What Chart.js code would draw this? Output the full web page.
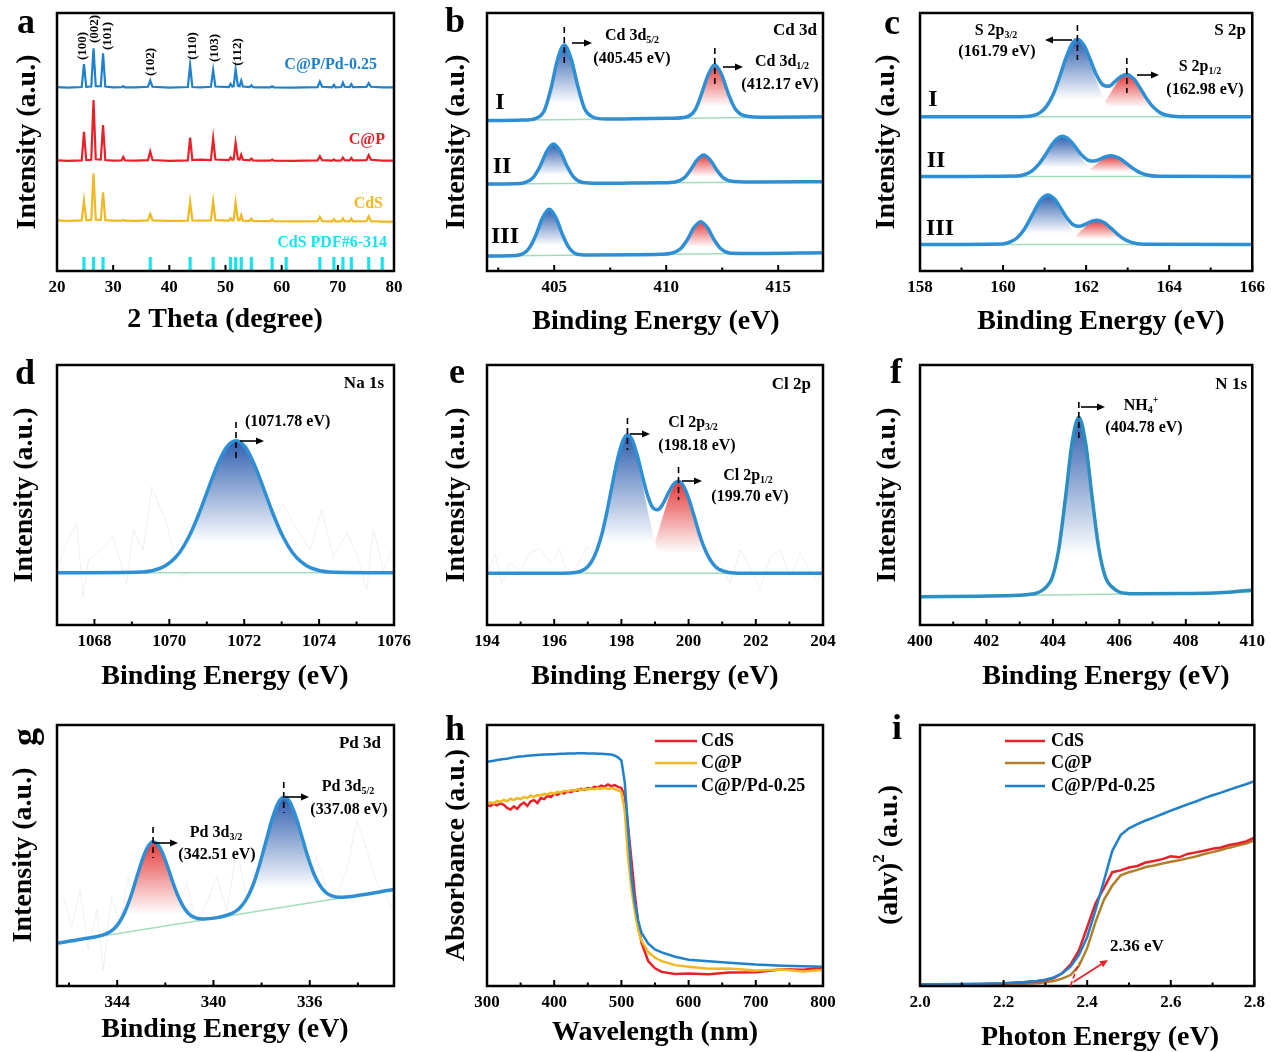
<!DOCTYPE html>
<html>
<head>
<meta charset="utf-8">
<title>CdS, C@P and C@P/Pd-0.25: XRD, XPS and UV-vis</title>
<script src="https://cdn.jsdelivr.net/npm/chart.js@4.4.1/dist/chart.umd.min.js"></script>
<style>
  html, body { margin: 0; padding: 0; background: #fff; }
  #fig { position: relative; width: 1271px; height: 1052px; overflow: hidden; background: #fff; }
  #fig canvas { position: absolute; left: 0; top: 0; }
</style>
</head>
<body>
<div id="fig"></div>
<script>
// ---------- (a) XRD ----------
const xrdTheta = [20, 22, 24.4, 24.8, 25.2, 26.1, 26.5, 26.9, 27.8, 28.2, 28.6, 30, 31.5, 31.8, 32.1, 34, 36.2, 36.6, 37.0, 40,
  43.3, 43.7, 44.1, 45.5, 47.4, 47.8, 48.2, 50.6, 50.9, 51.2, 51.45, 51.8, 52.2, 52.5, 52.8, 53.1, 54.3, 54.6, 54.9, 56,
  58.0, 58.3, 58.6, 62, 64, 66.4, 66.8, 67.2, 69.0, 69.3, 69.6, 70.6, 70.9, 71.2, 72.1, 72.4, 72.7, 75.1, 75.5, 75.9, 78, 80];
const xrdPd = [71.3, 71.1, 71.3, 80.2, 71.4, 71.5, 86.3, 71.6, 71.6, 84.4, 71.5, 71.2, 71.3, 71.6, 71.2, 71.2, 71.4, 73.8, 71.4, 71.1,
  71.3, 79.8, 71.3, 71.2, 71.4, 77.9, 71.5, 71.3, 72.5, 71.5, 71.6, 78.2, 71.8, 71.6, 73.8, 71.5, 71.3, 72.0, 71.3, 71.2,
  71.2, 71.6, 71.2, 71.1, 71.2, 71.3, 73.4, 71.4, 71.2, 72.1, 71.2, 71.3, 73.0, 71.4, 71.3, 72.4, 71.3, 71.4, 72.8, 71.4, 71.2, 71.2];
const xrdCP = [42.9, 42.7, 42.9, 53.9, 43.0, 43.1, 66.3, 43.3, 43.2, 56.6, 43.0, 42.8, 42.9, 44.2, 42.9, 42.8, 43.0, 46.3, 43.0, 42.7,
  42.9, 51.7, 43.0, 43.2, 43.0, 51.4, 43.2, 43.0, 44.0, 43.2, 43.3, 49.7, 43.4, 43.2, 45.1, 43.1, 42.9, 43.6, 42.9, 42.8,
  42.8, 43.2, 42.8, 42.7, 42.8, 42.9, 44.5, 43.0, 42.8, 43.3, 42.8, 42.9, 44.0, 43.0, 42.9, 43.8, 42.9, 43.0, 44.9, 43.1, 42.8, 42.8];
const xrdCdS = [19.6, 19.4, 19.6, 27.2, 19.7, 19.8, 37.8, 19.9, 19.8, 30.5, 19.7, 19.5, 19.5, 19.8, 19.5, 19.4, 19.6, 22.1, 19.6, 19.4,
  19.5, 26.9, 19.6, 19.5, 19.6, 26.9, 19.7, 19.5, 20.4, 19.6, 19.7, 26.5, 19.8, 19.6, 21.7, 19.5, 19.4, 20.3, 19.4, 19.3,
  19.3, 20.0, 19.3, 19.2, 19.2, 19.3, 21.0, 19.3, 19.2, 20.1, 19.2, 19.2, 20.4, 19.3, 19.2, 20.3, 19.2, 19.3, 21.2, 19.3, 19.1, 19.1];
const pdfSticks = [24.8, 26.5, 28.2, 36.6, 43.7, 47.8, 50.9, 51.8, 52.8, 54.6, 58.3, 60.8, 66.8, 69.3, 70.9, 72.4, 75.5, 77.9];
const pdfStickHeight = 5.3;
const hklLabels = ['(100)', '(002)', '(101)', '(102)', '(110)', '(103)', '(112)'];
const xrdMajor = [20, 30, 40, 50, 60, 70, 80];

// ---------- (b) Cd 3d, samples I-III ----------
const cdX1 = [402, 403.6, 404.15, 404.55, 404.85, 405.15, 405.45, 405.75, 406.05, 406.35, 406.75, 407.3, 408.5,
  410.2, 410.9, 411.3, 411.57, 411.87, 412.17, 412.47, 412.77, 413.07, 413.5, 414.5, 417];
const cdY1 = [58.3, 58.5, 59.1, 62.0, 70.5, 82.0, 87.6, 82.4, 71.8, 63.0, 59.6, 58.9, 59.0,
  59.2, 59.7, 62.6, 68.5, 76.0, 79.8, 76.2, 68.8, 63.0, 60.2, 59.6, 59.8];
const cdX2 = [402, 403.2, 403.67, 404.07, 404.37, 404.67, 404.97, 405.27, 405.57, 405.87, 406.27, 406.9, 408.5,
  409.8, 410.4, 410.8, 411.07, 411.37, 411.67, 411.97, 412.27, 412.57, 413.0, 414.2, 417];
const cdY2 = [33.7, 33.8, 34.2, 36.3, 40.6, 46.4, 49.2, 46.4, 40.7, 36.4, 34.3, 34.0, 34.1,
  34.2, 34.5, 36.1, 39.0, 43.0, 45.0, 43.0, 39.0, 36.0, 34.7, 34.5, 34.6];
const cdX3 = [402, 403.0, 403.48, 403.88, 404.18, 404.48, 404.78, 405.08, 405.38, 405.68, 406.08, 406.7, 408.5,
  409.7, 410.24, 410.64, 410.94, 411.24, 411.54, 411.84, 412.14, 412.44, 412.87, 414.0, 417];
const cdY3 = [5.8, 5.9, 6.3, 8.8, 13.9, 20.6, 23.9, 20.6, 13.9, 8.8, 6.4, 6.2, 6.3,
  6.5, 6.9, 8.6, 12.1, 16.8, 19.1, 16.8, 12.1, 8.6, 6.9, 6.8, 7.1];
const cdBaseX = [402, 417];
const cdBase1 = [58.3, 59.8];
const cdBase2 = [33.7, 34.6];
const cdBase3 = [5.8, 7.1];
const cdPeaks = [405.45, 412.17];
const cdMajor = [405, 410, 415];
const cdMinor = [402.5, 407.5, 412.5];

// ---------- (c) S 2p ----------
const sX1 = [158, 160.3, 160.7, 160.9, 161.05, 161.2, 161.35, 161.5, 161.65, 161.79, 161.95, 162.1, 162.25,
  162.4, 162.55, 162.7, 162.85, 162.98, 163.15, 163.3, 163.45, 163.6, 163.8, 164.1, 164.5, 166];
const sEnv1 = [59.8, 59.8, 60.2, 61.5, 63.9, 68.2, 74.6, 81.9, 87.7, 89.8, 87.4, 81.9, 76.0,
  72.2, 71.6, 73.5, 75.5, 76.2, 74.4, 70.9, 67.0, 63.8, 61.2, 60.0, 59.8, 59.8];
const sP3a = [59.8, 59.8, 60.2, 61.5, 63.9, 68.2, 74.6, 81.9, 87.7, 89.8, 87.1, 80.9, 73.7,
  67.5, 63.4, 61.3, 60.3, 60.0, 59.8, 59.8, 59.8, 59.8, 59.8, 59.8, 59.8, 59.8];
const sP1a = [59.8, 59.8, 59.8, 59.8, 59.8, 59.8, 59.8, 59.8, 59.8, 59.8, 60.1, 60.8, 62.1,
  64.5, 68.0, 72.0, 75.0, 76.0, 74.4, 70.9, 67.0, 63.8, 61.2, 60.0, 59.8, 59.8];
const sX2 = [158, 160.34, 160.54, 160.69, 160.84, 160.99, 161.14, 161.29, 161.43, 161.59, 161.74, 161.89,
  162.04, 162.19, 162.34, 162.49, 162.62, 162.79, 162.94, 163.09, 163.24, 163.44, 163.74, 166];
const sEnv2 = [36.6, 36.8, 37.5, 38.7, 41.0, 44.3, 48.1, 51.1, 52.2, 50.9, 48.1, 45.0,
  43.0, 42.6, 43.4, 44.4, 44.7, 43.8, 42.1, 40.2, 38.6, 37.3, 36.7, 36.6];
const sP3b = [36.6, 36.8, 37.5, 38.7, 41.0, 44.3, 48.1, 51.1, 52.2, 50.8, 47.6, 43.8,
  40.6, 38.5, 37.4, 36.9, 36.7, 36.6, 36.6, 36.6, 36.6, 36.6, 36.6, 36.6];
const sP1b = [36.6, 36.6, 36.6, 36.6, 36.6, 36.6, 36.6, 36.6, 36.6, 36.8, 37.1, 37.7,
  38.9, 40.7, 42.6, 44.1, 44.6, 43.8, 42.1, 40.2, 38.6, 37.3, 36.7, 36.6];
const sX3 = [158, 159.99, 160.19, 160.34, 160.49, 160.64, 160.79, 160.94, 161.08, 161.24, 161.39, 161.54,
  161.69, 161.84, 161.99, 162.14, 162.27, 162.44, 162.59, 162.74, 162.89, 163.09, 163.39, 166];
const sEnv3 = [10.3, 10.5, 11.4, 12.9, 15.7, 19.8, 24.4, 28.2, 29.5, 27.9, 24.3, 20.5,
  17.9, 17.3, 18.2, 19.3, 19.7, 18.7, 16.7, 14.5, 12.6, 11.1, 10.4, 10.3];
const sP3c = [10.3, 10.5, 11.4, 12.9, 15.7, 19.8, 24.4, 28.2, 29.5, 27.8, 23.8, 19.2,
  15.2, 12.6, 11.2, 10.6, 10.4, 10.3, 10.3, 10.3, 10.3, 10.3, 10.3, 10.3];
const sP1c = [10.3, 10.3, 10.3, 10.3, 10.3, 10.3, 10.3, 10.3, 10.3, 10.5, 10.8, 11.6,
  13.0, 15.0, 17.3, 19.0, 19.6, 18.7, 16.7, 14.5, 12.6, 11.1, 10.4, 10.3];
const sBaseX = [158, 166];
const sBase = [59.8, 36.6, 10.3];
const sPeaks = [161.79, 162.98];
const sMajor = [158, 160, 162, 164, 166];
const sMinor = [159, 161, 163, 165];

// ---------- (d) Na 1s ----------
const naX = [1067, 1069.28, 1069.78, 1070.03, 1070.28, 1070.53, 1070.78, 1071.03, 1071.28, 1071.53, 1071.78,
  1072.03, 1072.28, 1072.53, 1072.78, 1073.03, 1073.28, 1073.53, 1073.78, 1074.28, 1076];
const naY = [20.1, 20.4, 22.0, 24.2, 28.0, 34.1, 42.4, 52.0, 61.4, 68.4, 70.9,
  68.4, 61.4, 52.0, 42.4, 34.1, 28.0, 24.2, 22.0, 20.4, 20.1];
const naBase = 20.1;
const naRawX = [1067.08, 1067.21, 1067.53, 1067.7, 1067.84, 1068.15, 1068.5, 1068.86, 1069.04, 1069.3, 1069.53, 1069.75,
  1069.93, 1070.1, 1070.33, 1071.5, 1072.5, 1073.04, 1073.31, 1073.76, 1074.07, 1074.38, 1074.74, 1075.0, 1075.27,
  1075.45, 1075.72, 1075.94];
const naRawY = [23.7, 30.1, 39.1, 10.9, 25.0, 28.8, 34.0, 16.0, 36.5, 28.8, 53.2, 45.5,
  39.1, 28.8, 18.6, 30.0, 32.0, 46.8, 39.1, 28.8, 44.2, 26.3, 35.3, 27.6, 13.5,
  36.5, 21.1, 28.8];
const naPeak = 1071.78;
const naMajor = [1068, 1070, 1072, 1074, 1076];
const naMinor = [1067, 1069, 1071, 1073, 1075];

// ---------- (e) Cl 2p ----------
const clX = [194, 196.3, 196.63, 196.83, 196.98, 197.13, 197.28, 197.43, 197.58, 197.73, 197.88, 198.03, 198.18,
  198.33, 198.48, 198.63, 198.78, 198.93, 199.08, 199.25, 199.40, 199.55, 199.70, 199.85, 200.0, 200.15, 200.30,
  200.45, 200.60, 200.75, 200.90, 201.2, 201.6, 204];
const clEnv = [19.9, 19.9, 20.2, 20.9, 22.2, 24.8, 29.1, 35.5, 44.2, 54.1, 63.5, 70.4, 73.2,
  71.0, 64.9, 57.0, 49.8, 45.2, 44.3, 46.9, 50.8, 54.1, 55.3, 53.4, 48.7, 42.5, 35.9,
  30.2, 26.0, 23.1, 21.4, 20.2, 19.9, 19.9];
const clP3 = [19.9, 19.9, 20.2, 20.9, 22.2, 24.8, 29.1, 35.5, 44.2, 54.1, 63.5, 70.4, 72.9,
  70.4, 63.5, 54.1, 44.2, 35.5, 29.1, 24.3, 22.0, 20.8, 20.3, 20.0, 19.9, 19.9, 19.9,
  19.9, 19.9, 19.9, 19.9, 19.9, 19.9, 19.9];
const clP1 = [19.9, 19.9, 19.9, 19.9, 19.9, 19.9, 19.9, 19.9, 19.9, 19.9, 19.9, 19.9, 20.2,
  20.5, 21.3, 22.8, 25.5, 29.6, 35.1, 42.5, 48.7, 53.2, 54.9, 53.2, 48.7, 42.5, 35.9,
  30.2, 26.0, 23.1, 21.4, 20.2, 19.9, 19.9];
const clBase = 19.9;
const clRawX = [194.04, 194.24, 194.44, 194.68, 194.98, 195.28, 195.58, 195.88, 196.17, 196.42, 196.67, 196.97,
  197.36, 198.5, 199.5, 200.74, 200.98, 201.23, 201.53, 201.83, 202.13, 202.42, 202.72, 203.02, 203.32, 203.61,
  203.86, 203.96];
const clRawY = [21.2, 27.6, 16.0, 23.7, 21.2, 27.6, 29.5, 23.7, 28.8, 18.6, 22.4, 30.1,
  26.3, 30.0, 28.0, 26.3, 23.7, 16.0, 28.8, 22.4, 13.5, 26.3, 28.8, 18.6, 27.6, 21.2,
  16.0, 23.7];
const clPeaks = [198.18, 199.70];
const clMajor = [194, 196, 198, 200, 202, 204];
const clMinor = [195, 197, 199, 201, 203];

// ---------- (f) N 1s ----------
const nX = [400, 403.0, 403.38, 403.58, 403.78, 403.98, 404.18, 404.38, 404.58, 404.78, 404.98, 405.18, 405.38,
  405.58, 405.78, 405.98, 406.18, 406.5, 408, 409, 410];
const nY = [10.9, 11.4, 11.9, 12.6, 14.4, 18.2, 29.4, 49.1, 70.4, 79.9, 70.4, 49.2, 29.5,
  18.4, 14.6, 12.8, 12.2, 12.0, 12.1, 12.4, 13.5];
const nBaseX = [400, 410];
const nBaseY = [10.9, 12.6];
const nPeak = 404.78;
const nMajor = [400, 402, 404, 406, 408, 410];
const nMinor = [401, 403, 405, 407, 409];

// ---------- (g) Pd 3d ----------
const pdX = [332.5, 334.5, 334.78, 335.08, 335.33, 335.58, 335.83, 336.08, 336.33, 336.58, 336.83, 337.08, 337.33,
  337.58, 337.83, 338.08, 338.33, 338.58, 338.83, 339.08, 339.38, 339.9, 340.41, 340.71, 340.91, 341.11, 341.31,
  341.51, 341.71, 341.91, 342.11, 342.31, 342.51, 342.71, 342.91, 343.11, 343.31, 343.51, 343.71, 343.91, 344.11,
  344.31, 344.61, 345.5, 346.5];
const pdY = [37.0, 34.1, 34.0, 34.5, 35.8, 38.6, 43.0, 49.5, 57.3, 64.9, 70.5, 72.3, 69.8,
  63.4, 55.0, 46.6, 39.3, 34.1, 30.7, 28.6, 27.3, 26.1, 25.7, 26.0, 26.8, 28.5, 31.4,
  35.3, 40.3, 45.8, 50.8, 54.2, 55.3, 53.6, 49.6, 44.0, 37.9, 32.3, 27.8, 24.4, 22.1,
  20.7, 19.5, 17.9, 16.4];
const pdBaseX = [346.5, 332.5];
const pdBaseY = [16.4, 37.0];
const pdRawX = [346.24, 345.89, 345.54, 345.2, 344.85, 344.58, 344.23, 343.88, 343.54, 343.19, 342.77, 342.36,
  341.94, 341.53, 341.11, 340.7, 340.28, 339.87, 339.45, 339.03, 338.62, 338.2, 337.79, 337.37, 336.96, 336.54,
  336.13, 335.71, 335.3, 334.88, 334.46, 334.05, 333.63, 333.22, 332.8, 332.53];
const pdRawY = [34.2, 22.7, 36.8, 13.8, 29.1, 6.1, 34.2, 24.0, 41.9, 29.1, 48.3, 35.5,
  44.4, 27.8, 39.3, 24.0, 31.7, 41.9, 29.1, 52.1, 34.2, 44.4, 39.3, 48.3, 34.2, 54.6,
  39.3, 49.6, 36.8, 34.2, 44.4, 63.6, 52.1, 39.3, 34.2, 29.1];
const pdPeaks = [342.51, 337.08];
const pdMajor = [344, 340, 336];
const pdMinor = [346, 342, 338, 334];

// ---------- (h) UV-vis absorbance ----------
const wavelength = [300, 305, 310, 315, 320, 325, 330, 335, 340, 345, 350, 355, 360, 365, 370, 375, 380, 385, 390, 395,
  400, 405, 410, 415, 420, 425, 430, 435, 440, 445, 450, 455, 460, 465, 470, 475, 480, 485, 490, 495, 500,
  505, 510, 515, 520, 525, 530, 540, 550, 560, 580, 600, 630, 660, 700, 740, 770, 800];
const absPd = [85.9, 86.1, 86.3, 86.6, 86.8, 87.0, 87.1, 87.4, 87.6, 87.8, 87.9, 88.0, 88.2, 88.3, 88.4, 88.5, 88.6, 88.7, 88.7, 88.8,
  88.8, 88.9, 89.0, 89.0, 89.1, 89.1, 89.1, 89.2, 89.2, 89.2, 89.1, 89.1, 89.1, 89.0, 89.0, 88.9, 88.8, 88.7, 88.3, 87.6, 86.4,
  78.0, 60.0, 42.0, 32.0, 25.0, 20.3, 16.2, 14.0, 12.9, 11.2, 10.1, 9.5, 8.9, 8.2, 7.8, 7.6, 7.4];
const absCdS = [69.3, 69.0, 69.8, 69.2, 70.0, 69.4, 68.2, 67.6, 68.8, 67.9, 69.5, 70.3, 69.0, 70.8, 71.2, 70.1, 72.0, 71.6, 72.8, 72.4,
  73.6, 73.2, 74.1, 73.8, 74.6, 74.3, 75.0, 74.8, 75.5, 75.2, 75.8, 75.6, 76.3, 76.0, 76.8, 76.4, 77.2, 76.6, 77.0, 76.3, 75.9,
  72.8, 61.0, 48.0, 35.0, 24.0, 16.5, 9.5, 6.8, 5.4, 4.6, 4.8, 4.5, 5.2, 5.3, 6.4, 6.2, 7.0];
const absCP = [69.8, 70.4, 70.0, 70.9, 70.5, 71.3, 70.8, 71.8, 71.2, 72.0, 71.6, 72.4, 72.0, 72.9, 72.5, 73.2, 73.0, 73.6, 73.4, 74.0,
  73.7, 74.4, 74.1, 74.8, 74.5, 75.1, 74.8, 75.4, 75.0, 75.6, 75.3, 75.7, 75.4, 75.8, 75.5, 75.9, 75.5, 75.8, 75.4, 75.0, 74.3,
  67.0, 49.0, 37.0, 28.5, 21.5, 17.3, 13.0, 10.8, 9.5, 8.0, 7.4, 6.6, 6.7, 5.9, 6.3, 5.6, 6.1];
const wlMajor = [300, 400, 500, 600, 700, 800];
const wlMinor = [350, 450, 550, 650, 750];

// ---------- (i) Tauc plot ----------
const photonEnergy = [2.00, 2.05, 2.10, 2.15, 2.20, 2.25, 2.28, 2.30, 2.32, 2.34, 2.36, 2.38, 2.40, 2.42, 2.44, 2.46,
  2.48, 2.50, 2.52, 2.54, 2.56, 2.58, 2.60, 2.62, 2.64, 2.66, 2.68, 2.70, 2.72, 2.74, 2.76, 2.78, 2.80];
const taucPd = [0.6, 0.7, 0.8, 0.9, 1.1, 1.5, 1.9, 2.4, 3.3, 4.8, 7.4, 11.8, 18.8, 29.1, 40.3, 51.8,
  57.8, 60.4, 62.0, 63.4, 64.6, 65.9, 67.2, 68.4, 69.6, 70.7, 72.0, 73.1, 74.1, 75.2, 76.3, 77.3, 78.5];
const taucCdS = [0.6, 0.6, 0.7, 0.8, 1.0, 1.4, 1.8, 2.2, 3.0, 4.9, 8.2, 13.5, 22.5, 31.7, 37.5, 43.6,
  44.3, 45.4, 46.0, 47.3, 47.9, 48.6, 49.7, 49.3, 50.6, 51.2, 51.8, 52.6, 53.1, 54.0, 54.6, 55.4, 56.8];
const taucCP = [0.4, 0.4, 0.5, 0.6, 0.7, 0.9, 1.1, 1.4, 1.9, 2.8, 4.2, 7.6, 14.5, 24.6, 33.0, 38.5,
  42.4, 43.6, 44.5, 45.6, 46.2, 46.9, 47.6, 48.2, 48.9, 49.6, 50.6, 51.3, 52.1, 53.0, 53.8, 54.6, 55.7];
const bandGap = 2.36;
const evMajor = [2.0, 2.2, 2.4, 2.6, 2.8];
const evMinor = [2.1, 2.3, 2.5, 2.7];

// ---------- shared drawing setup ----------
const fig = document.getElementById('fig');
const W = 1271, H = 1052, AXIS_H = 30;
const SERIF = '"Liberation Serif", "Times New Roman", serif';
const XPS_LINE = '#2f8fd5';
const FILL_BLUE = '#2f5fae';
const FILL_RED = '#e43a3a';
const BASE_GREEN = '#a3dcbb';
const RED = '#e8202a', GOLD = '#f0b923', BLUE = '#1f80cc', BROWN = '#b07f2a', CYAN = '#18e3ef';

Chart.defaults.font.family = SERIF;

const pts = (xs, ys) => xs.map((x, i) => ({ x, y: ys[i] }));
const within = (xs, ys, lo, hi) => pts(xs, ys).filter(p => p.x >= lo && p.x <= hi);
const flat = (xs, v) => xs.map(x => ({ x, y: v }));

// vertical colour-to-white gradient under a fitted component
function fade(color) {
  return (c) => {
    const chart = c.chart;
    if (!chart.chartArea || !c.dataset) return 'rgba(255,255,255,0)';
    const ys = c.dataset.data.map(p => p.y);
    const y = chart.scales.y;
    const top = y.getPixelForValue(Math.max(...ys));
    const bot = y.getPixelForValue(Math.min(...ys));
    const g = chart.ctx.createLinearGradient(0, top, 0, Math.max(bot, top + 1));
    g.addColorStop(0, color);
    g.addColorStop(0.78, '#ffffff');
    g.addColorStop(1, '#ffffff');
    return g;
  };
}

const envelope = (data, color) => ({ data, borderColor: color || XPS_LINE, borderWidth: 3.5, fill: false,
  cubicInterpolationMode: 'monotone', pointRadius: 0 });
const baseline = (data) => ({ data, borderColor: BASE_GREEN, borderWidth: 1.5, fill: false, pointRadius: 0 });
const component = (data, color, target) => ({ data, borderWidth: 0, borderColor: 'rgba(0,0,0,0)',
  backgroundColor: fade(color), fill: target, cubicInterpolationMode: 'monotone', pointRadius: 0 });
const rawTrace = (data) => ({ data, borderColor: 'rgba(200,200,200,0.28)', borderWidth: 1, fill: false, pointRadius: 0 });
const plain = (label, data, color, width) => ({ label, data, borderColor: color, borderWidth: width || 2,
  fill: false, pointRadius: 0, tension: 0 });

function parseRich(s) {
  const out = [];
  s.split(/([_^]\{[^}]*\})/).forEach(seg => {
    if (!seg) return;
    if (seg[0] === '_') out.push({ s: seg.slice(2, -1), k: 'sub' });
    else if (seg[0] === '^') out.push({ s: seg.slice(2, -1), k: 'sup' });
    else out.push({ s: seg, k: '' });
  });
  return out;
}

function drawText(ctx, t) {
  const size = t.size || 16;
  const parts = parseRich(t.s);
  const fontOf = (p) => `bold ${p.k ? Math.round(size * 0.62) : size}px ${SERIF}`;
  ctx.save();
  ctx.translate(t.x, t.y);
  if (t.rot) ctx.rotate(t.rot);
  let total = 0;
  parts.forEach(p => { ctx.font = fontOf(p); total += ctx.measureText(p.s).width; });
  let cx = t.align === 'left' ? 0 : t.align === 'right' ? -total : -total / 2;
  ctx.fillStyle = t.color || '#000';
  ctx.textBaseline = 'middle';
  ctx.textAlign = 'left';
  parts.forEach(p => {
    ctx.font = fontOf(p);
    const dy = p.k === 'sub' ? size * 0.3 : p.k === 'sup' ? -size * 0.36 : 0;
    ctx.fillText(p.s, cx, dy);
    cx += ctx.measureText(p.s).width;
  });
  ctx.restore();
}

function arrow(ctx, x1, y1, x2, y2, color) {
  const a = Math.atan2(y2 - y1, x2 - x1), head = 8, half = 3.5;
  const bx = x2 - head * Math.cos(a), by = y2 - head * Math.sin(a);
  ctx.save();
  ctx.strokeStyle = color; ctx.fillStyle = color; ctx.lineWidth = 1.6;
  ctx.beginPath(); ctx.moveTo(x1, y1); ctx.lineTo(bx, by); ctx.stroke();
  ctx.beginPath(); ctx.moveTo(x2, y2);
  ctx.lineTo(bx + half * Math.sin(a), by - half * Math.cos(a));
  ctx.lineTo(bx - half * Math.sin(a), by + half * Math.cos(a));
  ctx.closePath(); ctx.fill();
  ctx.restore();
}

// dashed marker at a peak position plus a horizontal pointer
function drawMark(ctx, xs, m) {
  const px = xs.getPixelForValue(m.at);
  ctx.save();
  ctx.strokeStyle = '#000'; ctx.lineWidth = 1.6; ctx.setLineDash([6, 4]);
  ctx.beginPath(); ctx.moveTo(px, m.y1); ctx.lineTo(px, m.y2); ctx.stroke();
  ctx.restore();
  if (m.arrow) arrow(ctx, m.arrow[0], m.arrow[2], m.arrow[1], m.arrow[2], '#000');
}

function drawLegend(ctx, chart, lg) {
  lg.items.forEach((name, i) => {
    const ds = chart.data.datasets.find(d => d.label === name);
    const y = lg.ys[i];
    ctx.save();
    ctx.strokeStyle = ds.borderColor; ctx.lineWidth = 2.5;
    ctx.beginPath(); ctx.moveTo(lg.x1, y); ctx.lineTo(lg.x2, y); ctx.stroke();
    ctx.restore();
    drawText(ctx, { s: name, x: lg.tx, y, size: 18, align: 'left' });
  });
}

function decoPlugin(cfg) {
  return {
    id: 'deco',
    afterDatasetsDraw(chart) {
      const { ctx, chartArea: a, scales } = chart;
      const xs = scales.x;
      ctx.save();
      // inward ticks on the bottom edge
      ctx.strokeStyle = '#000'; ctx.lineWidth = 2;
      xs.ticks.forEach(t => {
        const px = xs.getPixelForValue(t.value);
        const len = cfg.major.includes(t.value) ? 6 : 3.5;
        ctx.beginPath(); ctx.moveTo(px, a.bottom); ctx.lineTo(px, a.bottom - len); ctx.stroke();
      });
      ctx.lineWidth = 2.5;
      ctx.strokeRect(a.left, a.top, a.right - a.left, a.bottom - a.top);
      ctx.restore();
      (cfg.marks || []).forEach(m => drawMark(ctx, xs, m));
      if (cfg.extra) cfg.extra(chart);
      if (cfg.legend) drawLegend(ctx, chart, cfg.legend);
      (cfg.texts || []).forEach(t => drawText(ctx, t));
    }
  };
}

function makePanel(cfg) {
  const canvas = document.createElement('canvas');
  canvas.width = W; canvas.height = H;
  fig.appendChild(canvas);
  const [l, t, r, b] = cfg.plot;
  const tickVals = cfg.major.concat(cfg.minor || []).sort((p, q) => p - q);
  return new Chart(canvas, {
    type: 'line',
    data: { datasets: cfg.datasets },
    options: {
      responsive: false,
      animation: false,
      events: [],
      layout: { padding: { left: l, top: t, right: W - r, bottom: H - b - AXIS_H } },
      plugins: { legend: { display: false }, tooltip: { enabled: false } },
      scales: {
        x: {
          type: 'linear', min: cfg.xMin, max: cfg.xMax, reverse: !!cfg.reverse, offset: false,
          grid: { display: false, drawTicks: false, tickLength: 0 },
          border: { display: false },
          afterBuildTicks: (s) => { s.ticks = tickVals.map(v => ({ value: v })); },
          afterFit: (s) => { s.height = AXIS_H; },
          ticks: {
            autoSkip: false, maxRotation: 0, minRotation: 0, padding: 6, color: '#000',
            font: { family: SERIF, size: 17, weight: 'bold' },
            callback: (v) => cfg.major.includes(v) ? v.toFixed(cfg.digits || 0) : ''
          }
        },
        y: { type: 'linear', display: false, min: 0, max: 100 }
      }
    },
    plugins: [decoPlugin(cfg)]
  });
}

const yTitle = (s, x, y) => ({ s, x, y, size: 28, rot: -Math.PI / 2 });
const xTitle = (s, x, y) => ({ s, x, y, size: 28 });
const letter = (s, x, y, rot) => ({ s, x, y, size: 36, rot });
const BE = 'Binding Energy (eV)';
const INT = 'Intensity (a.u.)';

// (a) XRD patterns
makePanel({
  plot: [57, 13, 394, 271], xMin: 20, xMax: 80, major: xrdMajor,
  datasets: [
    plain('C@P/Pd-0.25', pts(xrdTheta, xrdPd), BLUE, 2.2),
    plain('C@P', pts(xrdTheta, xrdCP), RED, 2.2),
    plain('CdS', pts(xrdTheta, xrdCdS), GOLD, 2.2),
    { type: 'bar', label: 'CdS PDF#6-314', data: pdfSticks.map(x => ({ x, y: pdfStickHeight })),
      backgroundColor: CYAN, barThickness: 2.5 }
  ],
  texts: [
    letter('a', 26, 24), yTitle(INT, 28, 142), xTitle('2 Theta (degree)', 225, 320),
    { s: 'C@P/Pd-0.25', x: 377, y: 65, size: 16, align: 'right', color: BLUE },
    { s: 'C@P', x: 385, y: 140, size: 16, align: 'right', color: RED },
    { s: 'CdS', x: 383, y: 204, size: 16, align: 'right', color: GOLD },
    { s: 'CdS PDF#6-314', x: 387, y: 243, size: 16, align: 'right', color: CYAN },
    ...[[82.7, 46], [95, 29], [108, 36], [150.7, 62], [192.7, 46], [215, 48], [237.7, 52]]
      .map(([x, y], i) => ({ s: hklLabels[i], x, y, size: 13, rot: -Math.PI / 2 }))
  ]
});

// (b) Cd 3d
makePanel({
  plot: [487, 13, 823, 271], xMin: 402, xMax: 417, major: cdMajor, minor: cdMinor,
  datasets: [
    envelope(pts(cdX1, cdY1)), envelope(pts(cdX2, cdY2)), envelope(pts(cdX3, cdY3)),
    baseline(pts(cdBaseX, cdBase1)), baseline(pts(cdBaseX, cdBase2)), baseline(pts(cdBaseX, cdBase3)),
    component(within(cdX1, cdY1, 403, 407.5), FILL_BLUE, 3), component(within(cdX1, cdY1, 409.5, 414.6), FILL_RED, 3),
    component(within(cdX2, cdY2, 403, 407.5), FILL_BLUE, 4), component(within(cdX2, cdY2, 409.5, 414.6), FILL_RED, 4),
    component(within(cdX3, cdY3, 403, 407.5), FILL_BLUE, 5), component(within(cdX3, cdY3, 409.5, 414.6), FILL_RED, 5)
  ],
  marks: [
    { at: cdPeaks[0], y1: 27, y2: 63, arrow: [572, 592, 43] },
    { at: cdPeaks[1], y1: 48, y2: 85, arrow: [723, 743, 67] }
  ],
  texts: [
    letter('b', 455, 23), yTitle(INT, 457, 142), xTitle(BE, 656, 322),
    { s: 'Cd 3d', x: 817, y: 31, size: 17, align: 'right' },
    { s: 'I', x: 500, y: 103, size: 24 }, { s: 'II', x: 502, y: 167, size: 24 }, { s: 'III', x: 505, y: 237, size: 24 },
    { s: 'Cd 3d_{5/2}', x: 632, y: 36, size: 16 }, { s: '(405.45 eV)', x: 632, y: 59, size: 16 },
    { s: 'Cd 3d_{1/2}', x: 782, y: 62, size: 16 }, { s: '(412.17 eV)', x: 780, y: 85, size: 16 }
  ]
});

// (c) S 2p
makePanel({
  plot: [920, 13, 1256, 271], xMin: 158, xMax: 166, major: sMajor, minor: sMinor,
  datasets: [
    envelope(pts(sX1, sEnv1)), envelope(pts(sX2, sEnv2)), envelope(pts(sX3, sEnv3)),
    baseline(flat(sBaseX, sBase[0])), baseline(flat(sBaseX, sBase[1])), baseline(flat(sBaseX, sBase[2])),
    component(pts(sX1, sP3a), FILL_BLUE, 3), component(pts(sX1, sP1a), FILL_RED, 3),
    component(pts(sX2, sP3b), FILL_BLUE, 4), component(pts(sX2, sP1b), FILL_RED, 4),
    component(pts(sX3, sP3c), FILL_BLUE, 5), component(pts(sX3, sP1c), FILL_RED, 5)
  ],
  marks: [
    { at: sPeaks[0], y1: 25, y2: 60, arrow: [1072, 1045, 40] },
    { at: sPeaks[1], y1: 58, y2: 93, arrow: [1137, 1159, 75] }
  ],
  texts: [
    letter('c', 892, 25), yTitle(INT, 887, 142), xTitle(BE, 1101, 322),
    { s: 'S 2p', x: 1246, y: 31, size: 17, align: 'right' },
    { s: 'I', x: 933, y: 100, size: 24 }, { s: 'II', x: 936, y: 161, size: 24 }, { s: 'III', x: 940, y: 229, size: 24 },
    { s: 'S 2p_{3/2}', x: 996, y: 31, size: 16 }, { s: '(161.79 eV)', x: 997, y: 52, size: 16 },
    { s: 'S 2p_{1/2}', x: 1200, y: 67, size: 16 }, { s: '(162.98 eV)', x: 1205, y: 90, size: 16 }
  ]
});

// (d) Na 1s
makePanel({
  plot: [57, 365, 394, 625], xMin: 1067, xMax: 1076, major: naMajor, minor: naMinor,
  datasets: [
    envelope(pts(naX, naY)),
    baseline(flat([1067, 1076], naBase)),
    component(within(naX, naY, 1069, 1074.5), FILL_BLUE, 1),
    rawTrace(pts(naRawX, naRawY))
  ],
  marks: [{ at: naPeak, y1: 422, y2: 458, arrow: [240, 264, 441] }],
  texts: [
    letter('d', 25, 375), yTitle(INT, 25, 495), xTitle(BE, 225, 677),
    { s: 'Na 1s', x: 384, y: 384, size: 17, align: 'right' },
    { s: '(1071.78 eV)', x: 245, y: 422, size: 16, align: 'left' }
  ]
});

// (e) Cl 2p
makePanel({
  plot: [487, 365, 823, 625], xMin: 194, xMax: 204, major: clMajor, minor: clMinor,
  datasets: [
    envelope(pts(clX, clEnv)),
    baseline(flat([194, 204], clBase)),
    component(pts(clX, clP3), FILL_BLUE, 1),
    component(pts(clX, clP1), FILL_RED, 1),
    rawTrace(pts(clRawX, clRawY))
  ],
  marks: [
    { at: clPeaks[0], y1: 418, y2: 450, arrow: [630, 650, 434] },
    { at: clPeaks[1], y1: 467, y2: 500, arrow: [682, 702, 481] }
  ],
  texts: [
    letter('e', 457, 374), yTitle(INT, 457, 495), xTitle(BE, 655, 677),
    { s: 'Cl 2p', x: 811, y: 385, size: 17, align: 'right' },
    { s: 'Cl 2p_{3/2}', x: 693, y: 423, size: 16 }, { s: '(198.18 eV)', x: 697, y: 446, size: 16 },
    { s: 'Cl 2p_{1/2}', x: 748, y: 476, size: 16 }, { s: '(199.70 eV)', x: 750, y: 497, size: 16 }
  ]
});

// (f) N 1s
makePanel({
  plot: [920, 365, 1257, 625], xMin: 400, xMax: 410, major: nMajor, minor: nMinor,
  datasets: [
    envelope(pts(nX, nY), '#2b8fc2'),
    baseline(pts(nBaseX, nBaseY)),
    component(within(nX, nY, 403.2, 406.3), FILL_BLUE, 1)
  ],
  marks: [{ at: nPeak, y1: 402, y2: 440, arrow: [1081, 1105, 407] }],
  texts: [
    letter('f', 896, 374), yTitle(INT, 888, 495), xTitle(BE, 1106, 677),
    { s: 'N 1s', x: 1247, y: 385, size: 17, align: 'right' },
    { s: 'NH_{4}^{+}', x: 1141, y: 406, size: 16 }, { s: '(404.78 eV)', x: 1144, y: 428, size: 16 }
  ]
});

// (g) Pd 3d, reversed energy axis
makePanel({
  plot: [57, 725, 394, 986], xMin: 332.5, xMax: 346.5, reverse: true, major: pdMajor, minor: pdMinor,
  datasets: [
    envelope(pts(pdX, pdY)),
    baseline(pts(pdBaseX, pdBaseY)),
    component(within(pdX, pdY, 340.0, 345.0), FILL_RED, 1),
    component(within(pdX, pdY, 334.6, 339.5), FILL_BLUE, 1),
    rawTrace(pts(pdRawX, pdRawY))
  ],
  marks: [
    { at: pdPeaks[0], y1: 827, y2: 858, arrow: [154, 178, 843] },
    { at: pdPeaks[1], y1: 782, y2: 813, arrow: [285, 309, 797] }
  ],
  texts: [
    letter('g', 27, 737, -Math.PI / 2), yTitle(INT, 24, 855), xTitle(BE, 225, 1030),
    { s: 'Pd 3d', x: 381, y: 744, size: 17, align: 'right' },
    { s: 'Pd 3d_{3/2}', x: 216, y: 833, size: 16 }, { s: '(342.51 eV)', x: 217, y: 855, size: 16 },
    { s: 'Pd 3d_{5/2}', x: 348, y: 787, size: 16 }, { s: '(337.08 eV)', x: 349, y: 810, size: 16 }
  ]
});

// (h) UV-vis absorbance
makePanel({
  plot: [487, 725, 823, 986], xMin: 300, xMax: 800, major: wlMajor, minor: wlMinor,
  datasets: [
    plain('C@P/Pd-0.25', pts(wavelength, absPd), BLUE, 2.5),
    plain('C@P', pts(wavelength, absCP), GOLD, 2.5),
    plain('CdS', pts(wavelength, absCdS), RED, 2.5)
  ],
  legend: { items: ['CdS', 'C@P', 'C@P/Pd-0.25'], x1: 655, x2: 697, tx: 701, ys: [741, 763, 786] },
  texts: [letter('h', 455, 731), yTitle('Absorbance (a.u.)', 457, 855), xTitle('Wavelength (nm)', 655, 1033)]
});

// (i) Tauc plot with band-gap extrapolation
makePanel({
  plot: [920, 725, 1257, 986], xMin: 2.0, xMax: 2.8, major: evMajor, minor: evMinor, digits: 1,
  datasets: [
    plain('C@P/Pd-0.25', pts(photonEnergy, taucPd), BLUE, 2.5),
    plain('CdS', pts(photonEnergy, taucCdS), RED, 2.5),
    plain('C@P', pts(photonEnergy, taucCP), BROWN, 2.5)
  ],
  legend: { items: ['CdS', 'C@P', 'C@P/Pd-0.25'], x1: 1005, x2: 1045, tx: 1051, ys: [741, 763, 786] },
  extra: (chart) => {
    const { ctx, scales: { x, y } } = chart;
    ctx.save();
    ctx.strokeStyle = RED; ctx.lineWidth = 1.6; ctx.setLineDash([5, 3]);
    ctx.beginPath();
    ctx.moveTo(x.getPixelForValue(bandGap), y.getPixelForValue(0));
    ctx.lineTo(x.getPixelForValue(bandGap + 0.02), y.getPixelForValue(9));
    ctx.stroke();
    ctx.restore();
    arrow(ctx, x.getPixelForValue(bandGap) + 3, 982, 1108, 960, RED);
  },
  texts: [
    letter('i', 897, 730), yTitle('(ahv)^{2} (a.u.)', 890, 855), xTitle('Photon Energy (eV)', 1100, 1038),
    { s: '2.36 eV', x: 1110, y: 947, size: 17, align: 'left' }
  ]
});
</script>
</body>
</html>
